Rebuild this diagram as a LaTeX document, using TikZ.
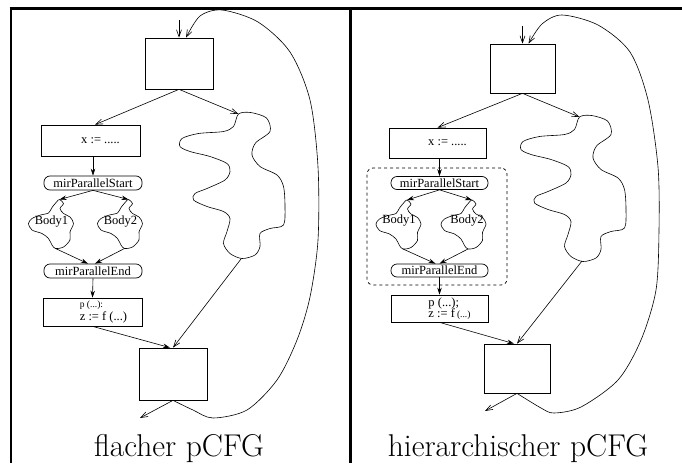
\documentclass[tikz,border=0pt]{standalone}
\usepackage{fontspec}
\newfontfamily\tms{Liberation Serif}
\usetikzlibrary{arrows.meta}

\tikzstyle{block}=[draw, line width=0.7pt, inner sep=0pt, font=\tms\fontsize{12.5}{13.5}\selectfont]
\tikzstyle{marker}=[block, rounded corners=6pt, minimum width=98pt, minimum height=14pt]
\tikzstyle{txt}=[inner sep=0pt, font=\tms\fontsize{12.5}{13.5}\selectfont]
\tikzstyle{caption}=[inner sep=0pt, anchor=base, font=\fontsize{31.5}{34}\selectfont]
\tikzstyle{arr}=[-{Stealth[length=7pt,width=4.5pt]}, line width=0.6pt]
\tikzstyle{oarr}=[-{Straight Barb[length=7pt,width=5pt]}, line width=0.6pt]

% blob for a parallel body, (0,0) is where the arrow comes in
\newcommand{\bodyblob}{plot[smooth cycle] coordinates {(0,0) (-3,2.5) (-7.5,8) (-11,13.5) (-19,15.5)
  (-27.5,19) (-31,24) (-27.5,30.5) (-17.5,34) (-11,39) (-7.5,45.5) (-4,49) (4,47.5) (10.5,40.5)
  (10.5,32.5) (14,24) (10.5,17.5) (4,14) (0.5,9) (4,4)}}
% big cloud for the other branch, (0,0) is its top
\newcommand{\cloudblob}{plot[smooth cycle] coordinates {(0,0) (12,-1.5) (28,4) (31.5,17.5) (17,29)
  (13.5,41) (21.5,52.5) (38.5,61) (45,72.5) (46.5,92.5) (45,111) (31.5,114.5) (21.5,119.5)
  (21.5,132.5) (16.5,141) (3.5,144.5) (-8.5,139.5) (-15,129.5) (-11.5,117.5) (-8.5,104.5)
  (-15,97.5) (-31.5,92.5) (-45,86) (-43.5,79.5) (-31.5,74.5) (-13.5,66) (-8.5,57.5) (-11.5,49.5)
  (-28.5,42.5) (-48.5,37.5) (-58.5,32.5) (-56.5,24.5) (-40,19.5) (-15,17.5) (-5,12.5)}}

\begin{document}
\begin{tikzpicture}[x=1pt,y=-1pt]
\useasboundingbox (0,0) rectangle (682,463);

% frame
\draw[line width=3pt] (9.5,8.3) -- (682,8.3);
\draw[line width=2.5pt] (11,8.3) -- (11,463);
\draw[line width=2.7pt] (350.3,8.3) -- (350.3,463);

%%% flacher pCFG
\node[block, minimum width=68pt, minimum height=51pt] (ltop) at (179,63.5) {};
\node[block, minimum width=99pt, minimum height=31pt] (lx) at (90.5,140.5) {\hspace*{20pt}x := .....};
\node[marker] (lstart) at (93,183) {mirParallelStart};
\node[txt] (lb1) at (51.5,222) {Body1};
\node[txt] (lb2) at (120.5,222) {Body2};
\node[marker] (lend) at (93,271) {mirParallelEnd};
\node[block, minimum width=99pt, minimum height=28pt] (lp) at (92.5,312)
  {\hspace*{22pt}\shortstack[l]{\fontsize{9.5}{9.5}\selectfont p (...):\\[-1pt]z := f (...)}};
\node[block, minimum width=68pt, minimum height=52pt] (lbot) at (173,374) {};
\node[caption] (lcap) at (179,456) {flacher pCFG};

\coordinate (lentry) at (179,20);
\coordinate (lexit) at (140,418);
\coordinate (lb1in) at (59.5,199.5);
\coordinate (lb2in) at (128.5,199.5);
\coordinate (lb1out) at (55.5,248.5);
\coordinate (lb2out) at (124.5,248.5);
\coordinate (lsqin) at (238.5,114);
\coordinate (lsqout) at (241,259);

\draw[shift={(lb1in)}, line width=0.6pt] \bodyblob;
\draw[shift={(lb2in)}, line width=0.6pt] \bodyblob;
\draw[shift={(lsqin)}, line width=0.6pt] \cloudblob;

\draw[oarr] (lentry) -- (ltop.north);
\draw[oarr] (ltop.south) -- ([xshift=4.5pt]lx.north);
\draw[oarr] (ltop.south) -- (lsqin);
\draw[arr] (lstart.north |- lx.south) -- (lstart.north);
\draw[arr] (lstart.south) -- (lb1in);
\draw[arr] (lstart.south) -- (lb2in);
\draw[arr] (lb1out) -- ([xshift=-5pt]lend.north);
\draw[arr] (lb2out) -- ([xshift=2pt]lend.north);
\draw[arr] (lend.south) -- (lp.north);
\draw[arr] (lp.south) -- ([xshift=-3pt]lbot.north);
\draw[oarr] (lsqout) -- (lbot.north);
\draw[oarr] (lbot.south) -- (lexit);
\draw[oarr] plot[smooth] coordinates {(lbot.south) (193,410) (213,418) (247,410) (277,380)
  (297,340) (310,297) (318,240) (318,167) (310,100) (290,52) (258,22) (222,10) (200,16)
  ([xshift=7pt]ltop.north)};

%%% hierarchischer pCFG
\node[block, minimum width=65pt, minimum height=49pt] (rtop) at (522.5,68.5) {};
\node[block, minimum width=97pt, minimum height=30pt] (rx) at (437.5,143) {\hspace*{20pt}x := .....};
\node[draw, dashed, line width=0.7pt, rounded corners=6pt, minimum width=140pt, minimum height=117pt]
  (rgroup) at (437,226.5) {};
\node[marker, minimum width=97pt, minimum height=13pt] (rstart) at (439.5,183) {mirParallelStart};
\node[txt] (rb1) at (399,221) {Body1};
\node[txt] (rb2) at (467,221) {Body2};
\node[marker, minimum width=97pt, minimum height=13pt] (rend) at (439.5,270.5) {mirParallelEnd};
\node[block, minimum width=97pt, minimum height=27pt] (rp) at (439.5,308.5)
  {\hspace*{20pt}\shortstack[l]{p (...);\\[-3pt]z := f\,{\fontsize{9.5}{9.5}\selectfont(...)}}};
\node[block, minimum width=66pt, minimum height=49pt] (rbot) at (517,368.5) {};
\node[caption] (rcap) at (518,456) {hierarchischer pCFG};

\coordinate (rentry) at (522.5,26);
\coordinate (rexit) at (485,411);
\coordinate (rb1in) at (407,200);
\coordinate (rb2in) at (472,200);
\coordinate (rb1out) at (403,249);
\coordinate (rb2out) at (468,249);
\coordinate (rsqin) at (579.5,117);
\coordinate (rsqout) at (582,261);

\draw[shift={(rb1in)}, line width=0.6pt] \bodyblob;
\draw[shift={(rb2in)}, line width=0.6pt] \bodyblob;
\draw[shift={(rsqin)}, line width=0.6pt] \cloudblob;

\draw[oarr] (rentry) -- (rtop.north);
\draw[oarr] (rtop.south) -- (rx.north);
\draw[oarr] (rtop.south) -- (rsqin);
\draw[arr] (rstart.north |- rx.south) -- (rstart.north);
\draw[arr] (rstart.south) -- (rb1in);
\draw[arr] (rstart.south) -- (rb2in);
\draw[arr] (rb1out) -- ([xshift=-4pt]rend.north);
\draw[arr] (rb2out) -- (rend.north);
\draw[arr] (rend.south) -- (rp.north);
\draw[arr] (rp.south) -- ([xshift=-3pt]rbot.north);
\draw[oarr] (rsqout) -- (rbot.north);
\draw[oarr] (rbot.south) -- (rexit);
\draw[oarr] plot[smooth] coordinates {(rbot.south) (541,408) (554,413) (581,407) (618,380)
  (641,340) (656,290) (659,230) (658,167) (648,100) (630,52) (598,25) (562,15) (542,24)
  ([xshift=6pt]rtop.north)};
\end{tikzpicture}
\end{document}
